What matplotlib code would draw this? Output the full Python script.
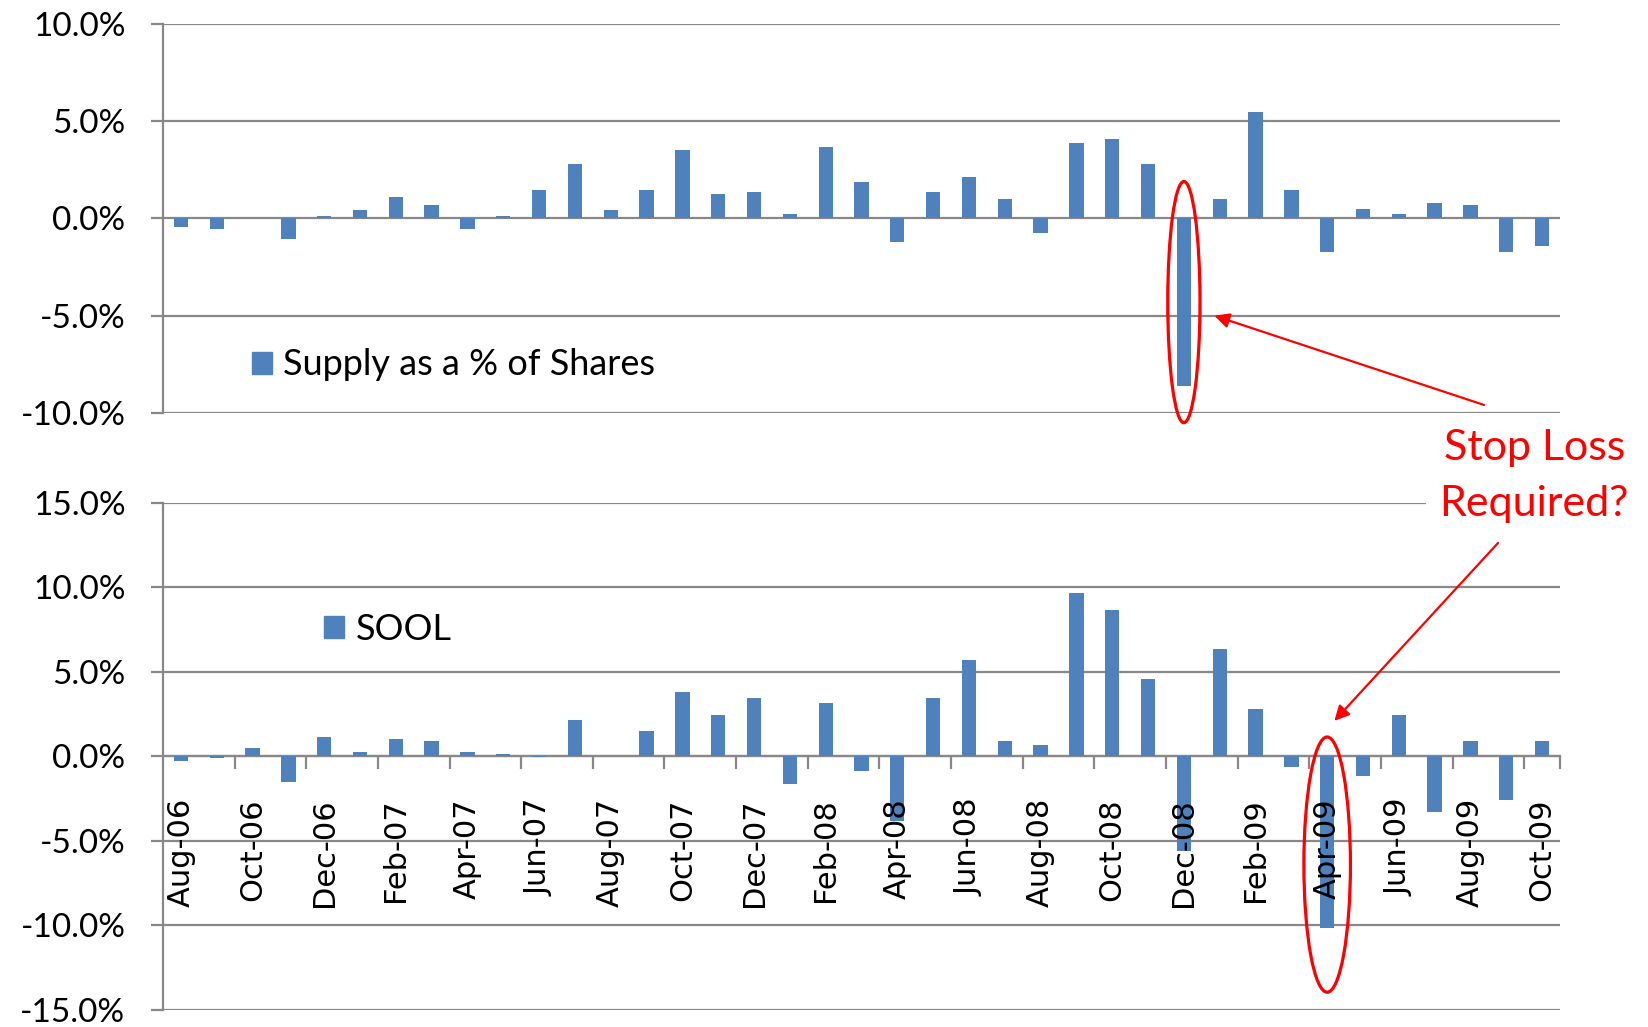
import matplotlib
matplotlib.use('Agg')
import matplotlib.pyplot as plt
from matplotlib.patches import Ellipse, Patch, ConnectionPatch
from matplotlib.ticker import FuncFormatter

# DATA ------------------------------------------------------------------------
months = ['Aug-06', 'Sep-06', 'Oct-06', 'Nov-06', 'Dec-06',
          'Jan-07', 'Feb-07', 'Mar-07', 'Apr-07', 'May-07', 'Jun-07',
          'Jul-07', 'Aug-07', 'Sep-07', 'Oct-07', 'Nov-07', 'Dec-07',
          'Jan-08', 'Feb-08', 'Mar-08', 'Apr-08', 'May-08', 'Jun-08',
          'Jul-08', 'Aug-08', 'Sep-08', 'Oct-08', 'Nov-08', 'Dec-08',
          'Jan-09', 'Feb-09', 'Mar-09', 'Apr-09', 'May-09', 'Jun-09',
          'Jul-09', 'Aug-09', 'Sep-09', 'Oct-09']

supply_pct = [-0.46, -0.56, 0.0, -1.04, 0.14,
              0.43, 1.09, 0.70, -0.56, 0.14, 1.47,
              2.82, 0.43, 1.47, 3.50, 1.28, 1.38,
              0.22, 3.69, 1.86, -1.23, 1.37, 2.13,
              0.99, -0.75, 3.87, 4.06, 2.82, -8.63,
              0.99, 5.49, 1.47, -1.72, 0.49, 0.22,
              0.80, 0.70, -1.72, -1.42]

sool = [-0.29, -0.10, 0.50, -1.53, 1.16,
        0.25, 1.05, 0.93, 0.25, 0.15, -0.05,
        2.15, 0.0, 1.49, 3.82, 2.46, 3.47,
        -1.63, 3.14, -0.87, -3.80, 3.47, 5.70,
        0.93, 0.68, 9.69, 8.68, 4.59, -5.60,
        6.36, 2.81, -0.62, -10.17, -1.18, 2.46,
        -3.29, 0.93, -2.60, 0.93]

top_ticks = [-10, -5, 0, 5, 10]
bottom_ticks = [-15, -10, -5, 0, 5, 10, 15]
# -----------------------------------------------------------------------------

bar_color = '#4F81BD'
grid_color = '#888888'
red = '#FF0000'
txt_font = 'Lato'

x = list(range(len(months)))
pct_fmt = FuncFormatter(lambda v, p: '{:.1f}%'.format(v))

fig = plt.figure(figsize=(16.48, 10.27), dpi=100)
ax1 = fig.add_axes([0.0989, 0.5979, 0.8477, 0.3788])
ax2 = fig.add_axes([0.0989, 0.0166, 0.8477, 0.4937])

for ax, vals, ticks in [(ax1, supply_pct, top_ticks), (ax2, sool, bottom_ticks)]:
    ax.bar(x, vals, width=0.4, color=bar_color, zorder=3)
    ax.set_xlim(-0.5, len(months) - 0.5)
    ax.set_ylim(ticks[0], ticks[-1])
    ax.set_yticks(ticks)
    ax.yaxis.set_major_formatter(pct_fmt)
    ax.grid(axis='y', color=grid_color, linewidth=1.6, zorder=1)
    ax.set_axisbelow(True)
    for s in ['top', 'right']:
        ax.spines[s].set_visible(False)
    ax.spines['left'].set_color(grid_color)
    ax.spines['left'].set_linewidth(1.6)
    ax.tick_params(axis='y', length=9, width=1.6, color=grid_color, pad=18,
                   labelsize=24)
    for lab in ax.get_yticklabels():
        lab.set_fontfamily(txt_font)

ax1.spines['bottom'].set_visible(False)
ax1.set_xticks([])

ax2.spines['bottom'].set_position(('data', 0))
ax2.spines['bottom'].set_color(grid_color)
ax2.spines['bottom'].set_linewidth(1.6)
ax2.set_xticks([i + 1.5 for i in x[::2][:-1]] + [len(months) - 0.5])
ax2.set_xticklabels([])
ax2.set_xticks(x[::2], minor=True)
ax2.set_xticklabels(months[::2], minor=True, rotation=90, fontsize=22,
                    fontfamily='DejaVu Sans', va='top')
ax2.tick_params(axis='x', which='major', length=9, width=1.6, color=grid_color,
                direction='out')
ax2.tick_params(axis='x', which='minor', length=0, pad=30)
ax2.xaxis.set_zorder(5)  # month labels sit on top of the bars

# legends
leg_kw = dict(loc='center left', frameon=False, borderpad=0, borderaxespad=0,
              handlelength=0.55, handleheight=0.55, handletextpad=0.32,
              prop={'family': txt_font, 'size': 26})
ax1.legend([Patch(color=bar_color)], ['Supply as a % of Shares'],
           bbox_to_anchor=(0.0637, 0.1234), **leg_kw)
ax2.legend([Patch(color=bar_color)], ['SOOL'],
           bbox_to_anchor=(0.1153, 0.7505), **leg_kw)

# annotations
i_dec08 = months.index('Dec-08')
i_apr09 = months.index('Apr-09')
ax1.add_patch(Ellipse((i_dec08, -4.3), width=0.9, height=12.4, fill=False,
                      edgecolor=red, linewidth=2.3, clip_on=False, zorder=5))
ax2.add_patch(Ellipse((i_apr09, -6.4), width=1.3, height=15.1, fill=False,
                      edgecolor=red, linewidth=2.3, clip_on=False, zorder=6))

fig.text(0.931, 0.5365, 'Stop Loss\nRequired?', color=red, fontsize=31,
         fontfamily=txt_font, ha='center', va='center', linespacing=1.58,
         bbox=dict(facecolor='white', edgecolor='none', pad=10), zorder=4)

for ax, xy, tail in [(ax1, (i_dec08 + 0.85, -5.0), (0.9005, 0.6057)),
                     (ax2, (i_apr09 + 0.2, 2.1), (0.909, 0.4713))]:
    con = ConnectionPatch(xyA=tail, coordsA='figure fraction', xyB=xy,
                          coordsB=ax.transData, arrowstyle='-|>,head_length=0.9,head_width=0.45',
                          color=red, linewidth=1.6, zorder=6)
    fig.add_artist(con)

fig.savefig('out.png', dpi=100)
